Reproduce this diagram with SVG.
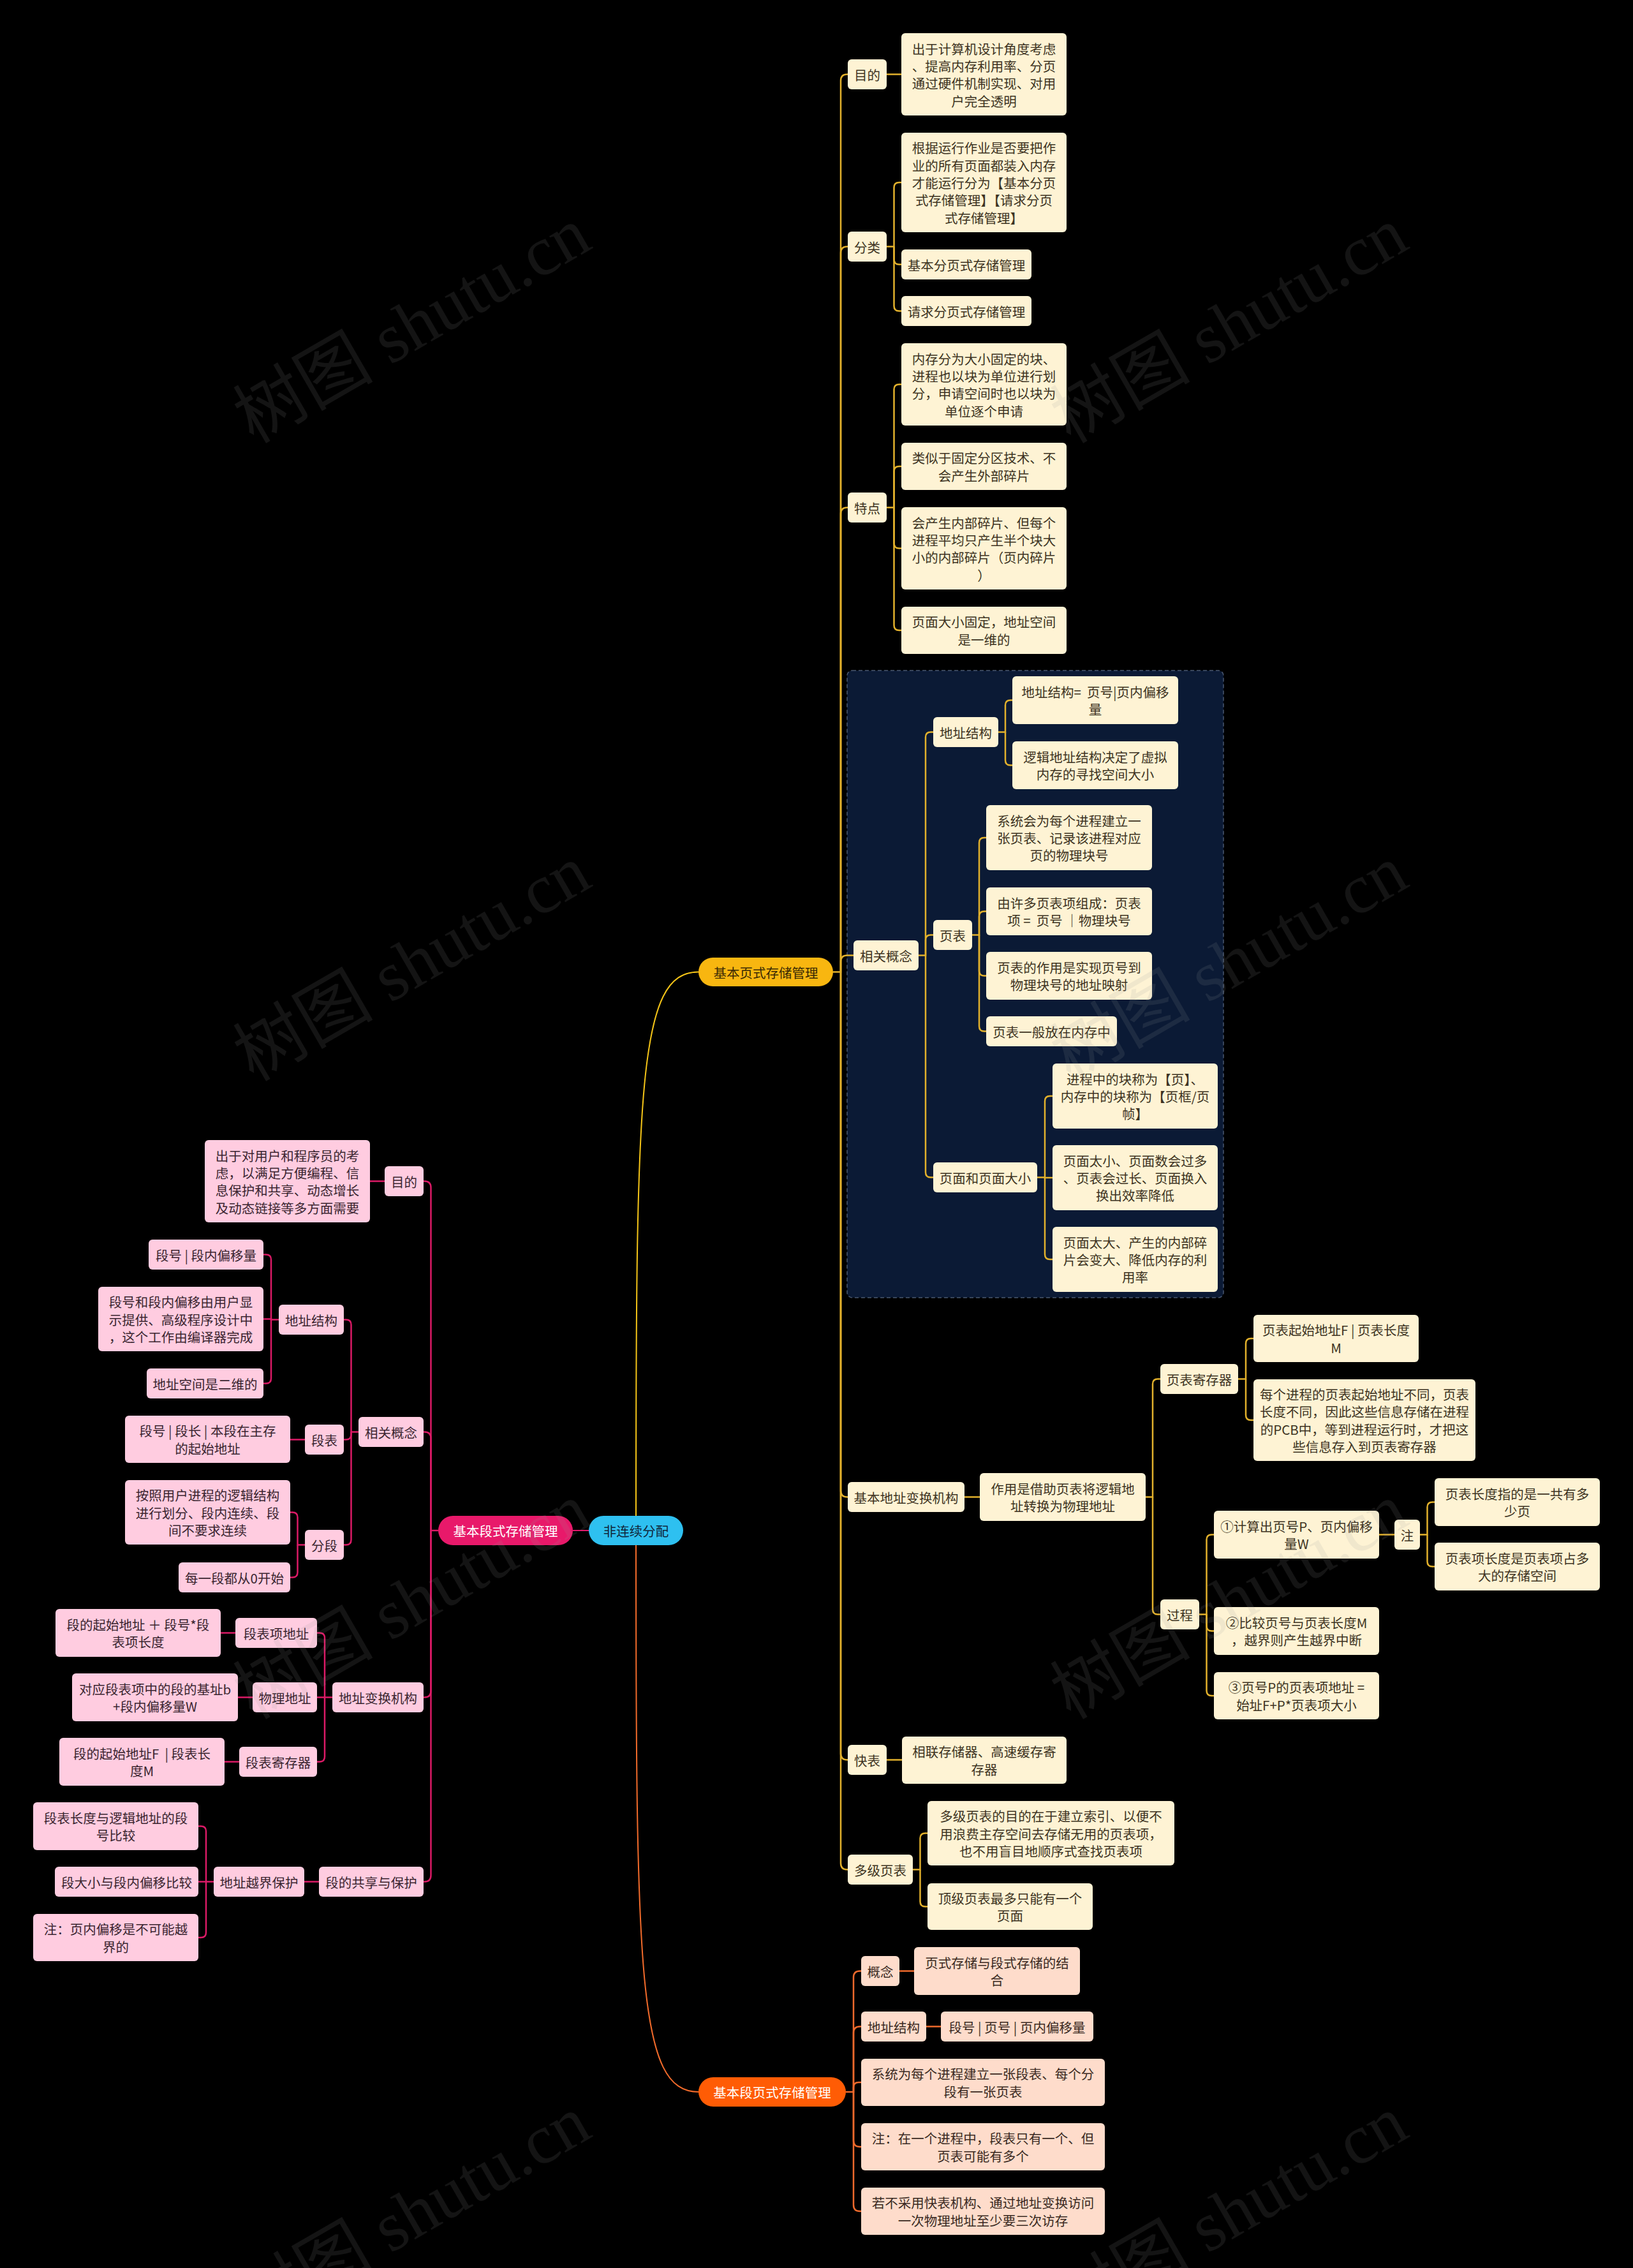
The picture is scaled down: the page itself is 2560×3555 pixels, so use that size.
<svg xmlns="http://www.w3.org/2000/svg" width="2560" height="3555" viewBox="0 0 2560 3555">
<style>
text{font-family:"Noto Sans CJK SC","Noto Sans",sans-serif;font-size:20.5px;text-anchor:middle;dominant-baseline:central;white-space:pre}
.c{fill:#FEF3D4}.ct{fill:#3D3322}
.p{fill:#FFCCE0}.pt{fill:#3A2530}
.o{fill:#FEDCCB}.ot{fill:#3A2A22}
.ly{fill:none;stroke:#E2B12C;stroke-width:2.5}
.lp{fill:none;stroke:#DB1A66;stroke-width:2.5}
.lo{fill:none;stroke:#EE6A2C;stroke-width:2.5}
.wm{font-family:"Liberation Serif","Noto Sans CJK SC",serif;font-size:110px;fill:#9a9a9a;opacity:0.13;text-anchor:middle;dominant-baseline:central}
</style>
<rect x="0" y="0" width="2560" height="3555" fill="#000000"/>
<rect id="frame" x="1328" y="1051" width="590" height="983" rx="8" fill="#0B1A35" stroke="#4A5870" stroke-width="1.5" stroke-dasharray="6 4"/>
<g id="connectors">
<path d="M997 2399C997 1700 1000 1523.5 1095 1523.5" fill="none" stroke="#F5C518" stroke-width="2"/>
<path d="M997 2399C997 3100 1000 3279 1095 3279" fill="none" stroke="#F26B2B" stroke-width="2"/>
<path d="M997 2399H898" fill="none" stroke="#E0186C" stroke-width="2"/>
<g class="ly">
<path d="M1306 1523.5H1318V126.5Q1318 116.5 1328 116.5H1329"/>
<path d="M1318 1523.5V396.5Q1318 386.5 1328 386.5H1329"/>
<path d="M1318 1523.5V805.5Q1318 795.5 1328 795.5H1329"/>
<path d="M1318 1523.5V1507.5Q1318 1497.5 1328 1497.5H1338"/>
<path d="M1318 1523.5V2336.5Q1318 2346.5 1328 2346.5H1329"/>
<path d="M1318 1523.5V2748.5Q1318 2758.5 1328 2758.5H1329"/>
<path d="M1318 1523.5V2920.5Q1318 2930.5 1328 2930.5H1329"/>
<path d="M1390 116.5H1413"/>
<path d="M1390 386.5H1401.5V294Q1401.5 286 1409.5 286H1413"/>
<path d="M1401.5 386.5V406.5Q1401.5 414.5 1409.5 414.5H1413"/>
<path d="M1401.5 386.5V479.5Q1401.5 487.5 1409.5 487.5H1413"/>
<path d="M1390 795.5H1401.5V610.5Q1401.5 602.5 1409.5 602.5H1413"/>
<path d="M1401.5 795.5V739Q1401.5 731 1409.5 731H1413"/>
<path d="M1401.5 795.5V851.5Q1401.5 859.5 1409.5 859.5H1413"/>
<path d="M1401.5 795.5V980Q1401.5 988 1409.5 988H1413"/>
<path d="M1440 1497.5H1451V1155.5Q1451 1147.5 1459 1147.5H1463"/>
<path d="M1451 1497.5V1473.5Q1451 1465.5 1459 1465.5H1463"/>
<path d="M1451 1497.5V1837.5Q1451 1845.5 1459 1845.5H1463"/>
<path d="M1565 1147.5H1576V1105.5Q1576 1097.5 1584 1097.5H1587"/>
<path d="M1576 1147.5V1191.5Q1576 1199.5 1584 1199.5H1587"/>
<path d="M1524 1465.5H1535V1321Q1535 1313 1543 1313H1546"/>
<path d="M1535 1465.5V1436.5Q1535 1428.5 1543 1428.5H1546"/>
<path d="M1535 1465.5V1521.5Q1535 1529.5 1543 1529.5H1546"/>
<path d="M1535 1465.5V1608.5Q1535 1616.5 1543 1616.5H1546"/>
<path d="M1626 1845.5H1638V1726Q1638 1718 1646 1718H1650"/>
<path d="M1638 1845.5V1846H1650"/>
<path d="M1638 1845.5V1966Q1638 1974 1646 1974H1650"/>
<path d="M1512 2346.5H1536"/>
<path d="M1796 2346.5H1807V2169.5Q1807 2161.5 1815 2161.5H1819"/>
<path d="M1807 2346.5V2522.5Q1807 2530.5 1815 2530.5H1819"/>
<path d="M1941 2161.5H1953V2106Q1953 2098 1961 2098H1965"/>
<path d="M1953 2161.5V2218Q1953 2226 1961 2226H1965"/>
<path d="M1880 2530.5H1891.5V2413.5Q1891.5 2405.5 1899.5 2405.5H1903"/>
<path d="M1891.5 2530.5V2548.5Q1891.5 2556.5 1899.5 2556.5H1903"/>
<path d="M1891.5 2530.5V2650Q1891.5 2658 1899.5 2658H1903"/>
<path d="M2162 2405.5H2186"/>
<path d="M2226 2405.5H2237.5V2362.5Q2237.5 2354.5 2245.5 2354.5H2249"/>
<path d="M2237.5 2405.5V2447.5Q2237.5 2455.5 2245.5 2455.5H2249"/>
<path d="M1390 2758.5H1414"/>
<path d="M1431 2930.5H1442.5V2881.5Q1442.5 2873.5 1450.5 2873.5H1454"/>
<path d="M1442.5 2930.5V2980.5Q1442.5 2988.5 1450.5 2988.5H1454"/>
</g>
<g class="lo">
<path d="M1326 3279H1338V3099.5Q1338 3089.5 1348 3089.5H1350"/>
<path d="M1338 3279V3186.5Q1338 3176.5 1348 3176.5H1350"/>
<path d="M1338 3279V3272Q1338 3264 1346 3264H1350"/>
<path d="M1338 3279V3355Q1338 3365 1348 3365H1350"/>
<path d="M1338 3279V3456Q1338 3466 1348 3466H1350"/>
<path d="M1410 3089.5H1433"/>
<path d="M1452 3176.5H1475"/>
</g>
<g class="lp">
<path d="M687 2399H675.5V1861.5Q675.5 1851.5 665.5 1851.5H664"/>
<path d="M675.5 2399V2254.5Q675.5 2244.5 665.5 2244.5H664"/>
<path d="M675.5 2399V2650.5Q675.5 2660.5 665.5 2660.5H664"/>
<path d="M675.5 2399V2939.5Q675.5 2949.5 665.5 2949.5H664"/>
<path d="M603 1851.5H580"/>
<path d="M562 2244.5H550.5V2076.5Q550.5 2068.5 542.5 2068.5H539"/>
<path d="M550.5 2244.5V2248.5Q550.5 2256.5 542.5 2256.5H539"/>
<path d="M550.5 2244.5V2413.5Q550.5 2421.5 542.5 2421.5H539"/>
<path d="M437 2068.5H425V1974.5Q425 1966.5 417 1966.5H413"/>
<path d="M425 2068.5V2067.5H413"/>
<path d="M425 2068.5V2160.5Q425 2168.5 417 2168.5H413"/>
<path d="M478 2256.5H455"/>
<path d="M478 2421.5H466.5V2378.5Q466.5 2370.5 458.5 2370.5H455"/>
<path d="M466.5 2421.5V2464.5Q466.5 2472.5 458.5 2472.5H455"/>
<path d="M521 2660.5H509V2567.5Q509 2559.5 501 2559.5H497"/>
<path d="M509 2660.5H497"/>
<path d="M509 2660.5V2753.5Q509 2761.5 501 2761.5H497"/>
<path d="M369 2559.5H346"/>
<path d="M396 2660.5H373"/>
<path d="M375 2761.5H352"/>
<path d="M500 2949.5H477"/>
<path d="M335 2949.5H323V2870.5Q323 2862.5 315 2862.5H311"/>
<path d="M323 2949.5H311"/>
<path d="M323 2949.5V3029Q323 3037 315 3037H311"/>
</g>
</g>
<g id="root"><rect x="923" y="2376" width="148" height="46" rx="23" fill="#2EC0F0"/><text x="997" y="2399" fill="#10263A">非连续分配</text></g>
<g id="page-root"><rect x="1095" y="1501" width="211" height="45" rx="22.5" fill="#F8B610"/><text x="1200.5" y="1523.5" fill="#3A2A05">基本页式存储管理</text></g>
<g id="seg-root"><rect x="687" y="2376" width="211" height="46" rx="23" fill="#E8196A"/><text x="792.5" y="2399" fill="#FFFFFF">基本段式存储管理</text></g>
<g id="segpage-root"><rect x="1095" y="3256" width="231" height="46" rx="23" fill="#FF5C05"/><text x="1210.5" y="3279" fill="#FFFFFF">基本段页式存储管理</text></g>

<g id="r1"><rect class="c" x="1329" y="93" width="61" height="47" rx="6"/><text class="ct" x="1359.5" y="116.5">目的</text></g>
<g id="r1a"><rect class="c" x="1413" y="52" width="259" height="129" rx="6"/><text class="ct"><tspan x="1542.5" y="75.6">出于计算机设计角度考虑</tspan><tspan x="1542.5" y="102.9">、提高内存利用率、分页</tspan><tspan x="1542.5" y="130.2">通过硬件机制实现、对用</tspan><tspan x="1542.5" y="157.5">户完全透明</tspan></text></g>
<g id="r2"><rect class="c" x="1329" y="363" width="61" height="47" rx="6"/><text class="ct" x="1359.5" y="386.5">分类</text></g>
<g id="r2a"><rect class="c" x="1413" y="208" width="259" height="156" rx="6"/><text class="ct"><tspan x="1542.5" y="231.4">根据运行作业是否要把作</tspan><tspan x="1542.5" y="258.7">业的所有页面都装入内存</tspan><tspan x="1542.5" y="286">才能运行分为【基本分页</tspan><tspan x="1542.5" y="313.3">式存储管理】【请求分页</tspan><tspan x="1542.5" y="340.6">式存储管理】</tspan></text></g>
<g id="r2b"><rect class="c" x="1413" y="391" width="204" height="47" rx="6"/><text class="ct" x="1515" y="414.5">基本分页式存储管理</text></g>
<g id="r2c"><rect class="c" x="1413" y="464" width="204" height="47" rx="6"/><text class="ct" x="1515" y="487.5">请求分页式存储管理</text></g>
<g id="r3"><rect class="c" x="1329" y="772" width="61" height="47" rx="6"/><text class="ct" x="1359.5" y="795.5">特点</text></g>
<g id="r3a"><rect class="c" x="1413" y="538" width="259" height="129" rx="6"/><text class="ct"><tspan x="1542.5" y="561.6">内存分为大小固定的块、</tspan><tspan x="1542.5" y="588.9">进程也以块为单位进行划</tspan><tspan x="1542.5" y="616.2">分，申请空间时也以块为</tspan><tspan x="1542.5" y="643.5">单位逐个申请</tspan></text></g>
<g id="r3b"><rect class="c" x="1413" y="694" width="259" height="74" rx="6"/><text class="ct"><tspan x="1542.5" y="717.4">类似于固定分区技术、不</tspan><tspan x="1542.5" y="744.6">会产生外部碎片</tspan></text></g>
<g id="r3c"><rect class="c" x="1413" y="795" width="259" height="129" rx="6"/><text class="ct"><tspan x="1542.5" y="818.6">会产生内部碎片、但每个</tspan><tspan x="1542.5" y="845.9">进程平均只产生半个块大</tspan><tspan x="1542.5" y="873.2">小的内部碎片（页内碎片</tspan><tspan x="1542.5" y="900.5">）</tspan></text></g>
<g id="r3d"><rect class="c" x="1413" y="951" width="259" height="74" rx="6"/><text class="ct"><tspan x="1542.5" y="974.4">页面大小固定，地址空间</tspan><tspan x="1542.5" y="1001.6">是一维的</tspan></text></g>

<g id="r4"><rect class="c" x="1338" y="1474" width="102" height="47" rx="6"/><text class="ct" x="1389" y="1497.5">相关概念</text></g>
<g id="r4a"><rect class="c" x="1463" y="1124" width="102" height="47" rx="6"/><text class="ct" x="1514" y="1147.5">地址结构</text></g>
<g id="r4a1"><rect class="c" x="1587" y="1060" width="260" height="75" rx="6"/><text class="ct"><tspan x="1717" y="1083.9">地址结构=  页号|页内偏移</tspan><tspan x="1717" y="1111.2">量</tspan></text></g>
<g id="r4a2"><rect class="c" x="1587" y="1162" width="260" height="75" rx="6"/><text class="ct"><tspan x="1717" y="1185.9">逻辑地址结构决定了虚拟</tspan><tspan x="1717" y="1213.2">内存的寻找空间大小</tspan></text></g>
<g id="r4b"><rect class="c" x="1463" y="1442" width="61" height="47" rx="6"/><text class="ct" x="1493.5" y="1465.5">页表</text></g>
<g id="r4b1"><rect class="c" x="1546" y="1262" width="260" height="102" rx="6"/><text class="ct"><tspan x="1676" y="1285.7">系统会为每个进程建立一</tspan><tspan x="1676" y="1313">张页表、记录该进程对应</tspan><tspan x="1676" y="1340.3">页的物理块号</tspan></text></g>
<g id="r4b2"><rect class="c" x="1546" y="1391" width="260" height="75" rx="6"/><text class="ct"><tspan x="1676" y="1414.9">由许多页表项组成：页表</tspan><tspan x="1676" y="1442.2">项 =  页号 ｜物理块号</tspan></text></g>
<g id="r4b3"><rect class="c" x="1546" y="1492" width="260" height="75" rx="6"/><text class="ct"><tspan x="1676" y="1515.9">页表的作用是实现页号到</tspan><tspan x="1676" y="1543.2">物理块号的地址映射</tspan></text></g>
<g id="r4b4"><rect class="c" x="1546" y="1593" width="205" height="47" rx="6"/><text class="ct" x="1648.5" y="1616.5">页表一般放在内存中</text></g>
<g id="r4c"><rect class="c" x="1463" y="1822" width="163" height="47" rx="6"/><text class="ct" x="1544.5" y="1845.5">页面和页面大小</text></g>
<g id="r4c1"><rect class="c" x="1650" y="1667" width="259" height="102" rx="6"/><text class="ct"><tspan x="1779.5" y="1690.7">进程中的块称为【页】、</tspan><tspan x="1779.5" y="1718">内存中的块称为【页框/页</tspan><tspan x="1779.5" y="1745.3">帧】</tspan></text></g>
<g id="r4c2"><rect class="c" x="1650" y="1795" width="259" height="102" rx="6"/><text class="ct"><tspan x="1779.5" y="1818.7">页面太小、页面数会过多</tspan><tspan x="1779.5" y="1846">、页表会过长、页面换入</tspan><tspan x="1779.5" y="1873.3">换出效率降低</tspan></text></g>
<g id="r4c3"><rect class="c" x="1650" y="1923" width="259" height="102" rx="6"/><text class="ct"><tspan x="1779.5" y="1946.7">页面太大、产生的内部碎</tspan><tspan x="1779.5" y="1974">片会变大、降低内存的利</tspan><tspan x="1779.5" y="2001.3">用率</tspan></text></g>

<g id="r5"><rect class="c" x="1329" y="2323" width="183" height="47" rx="6"/><text class="ct" x="1420.5" y="2346.5">基本地址变换机构</text></g>
<g id="r5a"><rect class="c" x="1536" y="2309" width="260" height="75" rx="6"/><text class="ct"><tspan x="1666" y="2332.9">作用是借助页表将逻辑地</tspan><tspan x="1666" y="2360.2">址转换为物理地址</tspan></text></g>
<g id="r5b"><rect class="c" x="1819" y="2138" width="122" height="47" rx="6"/><text class="ct" x="1880" y="2161.5">页表寄存器</text></g>
<g id="r5b1"><rect class="c" x="1965" y="2061" width="259" height="74" rx="6"/><text class="ct"><tspan x="2094.5" y="2084.4">页表起始地址F | 页表长度</tspan><tspan x="2094.5" y="2111.7">M</tspan></text></g>
<g id="r5b2"><rect class="c" x="1965" y="2162" width="348" height="128" rx="6"/><text class="ct"><tspan x="2139" y="2185.1">每个进程的页表起始地址不同，页表</tspan><tspan x="2139" y="2212.4">长度不同，因此这些信息存储在进程</tspan><tspan x="2139" y="2239.7">的PCB中，等到进程运行时，才把这</tspan><tspan x="2139" y="2267">些信息存入到页表寄存器</tspan></text></g>
<g id="r5c"><rect class="c" x="1819" y="2507" width="61" height="47" rx="6"/><text class="ct" x="1849.5" y="2530.5">过程</text></g>
<g id="r5c1"><rect class="c" x="1903" y="2368" width="259" height="75" rx="6"/><text class="ct"><tspan x="2032.5" y="2391.9">①计算出页号P、页内偏移</tspan><tspan x="2032.5" y="2419.2">量W</tspan></text></g>
<g id="r5c1n"><rect class="c" x="2186" y="2382" width="40" height="47" rx="6"/><text class="ct" x="2206" y="2405.5">注</text></g>
<g id="r5c1n1"><rect class="c" x="2249" y="2317" width="259" height="75" rx="6"/><text class="ct"><tspan x="2378.5" y="2340.9">页表长度指的是一共有多</tspan><tspan x="2378.5" y="2368.2">少页</tspan></text></g>
<g id="r5c1n2"><rect class="c" x="2249" y="2418" width="259" height="75" rx="6"/><text class="ct"><tspan x="2378.5" y="2441.9">页表项长度是页表项占多</tspan><tspan x="2378.5" y="2469.2">大的存储空间</tspan></text></g>
<g id="r5c2"><rect class="c" x="1903" y="2519" width="259" height="75" rx="6"/><text class="ct"><tspan x="2032.5" y="2542.9">②比较页号与页表长度M</tspan><tspan x="2032.5" y="2570.2">，越界则产生越界中断</tspan></text></g>
<g id="r5c3"><rect class="c" x="1903" y="2621" width="259" height="74" rx="6"/><text class="ct"><tspan x="2032.5" y="2644.4">③页号P的页表项地址 =</tspan><tspan x="2032.5" y="2671.7">始址F+P*页表项大小</tspan></text></g>
<g id="r6"><rect class="c" x="1329" y="2735" width="61" height="47" rx="6"/><text class="ct" x="1359.5" y="2758.5">快表</text></g>
<g id="r6a"><rect class="c" x="1414" y="2722" width="258" height="74" rx="6"/><text class="ct"><tspan x="1543" y="2745.4">相联存储器、高速缓存寄</tspan><tspan x="1543" y="2772.7">存器</tspan></text></g>
<g id="r7"><rect class="c" x="1329" y="2907" width="102" height="47" rx="6"/><text class="ct" x="1380" y="2930.5">多级页表</text></g>
<g id="r7a"><rect class="c" x="1454" y="2823" width="387" height="101" rx="6"/><text class="ct"><tspan x="1647.5" y="2846.2">多级页表的目的在于建立索引、以便不</tspan><tspan x="1647.5" y="2873.5">用浪费主存空间去存储无用的页表项，</tspan><tspan x="1647.5" y="2900.8">也不用盲目地顺序式查找页表项</tspan></text></g>
<g id="r7b"><rect class="c" x="1454" y="2952" width="259" height="73" rx="6"/><text class="ct"><tspan x="1583.5" y="2974.9">顶级页表最多只能有一个</tspan><tspan x="1583.5" y="3002.2">页面</tspan></text></g>

<g id="o1"><rect class="o" x="1350" y="3066" width="60" height="47" rx="6"/><text class="ot" x="1380" y="3089.5">概念</text></g>
<g id="o1a"><rect class="o" x="1433" y="3052" width="260" height="75" rx="6"/><text class="ot"><tspan x="1563" y="3075.9">页式存储与段式存储的结</tspan><tspan x="1563" y="3103.2">合</tspan></text></g>
<g id="o2"><rect class="o" x="1350" y="3153" width="102" height="47" rx="6"/><text class="ot" x="1401" y="3176.5">地址结构</text></g>
<g id="o2a"><rect class="o" x="1475" y="3153" width="239" height="47" rx="6"/><text class="ot" x="1594.5" y="3176.5">段号 | 页号 | 页内偏移量</text></g>
<g id="o3"><rect class="o" x="1350" y="3227" width="382" height="74" rx="6"/><text class="ot"><tspan x="1541" y="3250.4">系统为每个进程建立一张段表、每个分</tspan><tspan x="1541" y="3277.7">段有一张页表</tspan></text></g>
<g id="o4"><rect class="o" x="1350" y="3328" width="382" height="74" rx="6"/><text class="ot"><tspan x="1541" y="3351.4">注：在一个进程中，段表只有一个、但</tspan><tspan x="1541" y="3378.7">页表可能有多个</tspan></text></g>
<g id="o5"><rect class="o" x="1350" y="3429" width="382" height="74" rx="6"/><text class="ot"><tspan x="1541" y="3452.4">若不采用快表机构、通过地址变换访问</tspan><tspan x="1541" y="3479.7">一次物理地址至少要三次访存</tspan></text></g>

<g id="l1"><rect class="p" x="603" y="1828" width="61" height="47" rx="6"/><text class="pt" x="633.5" y="1851.5">目的</text></g>
<g id="l1a"><rect class="p" x="321" y="1787" width="259" height="129" rx="6"/><text class="pt"><tspan x="450.5" y="1810.6">出于对用户和程序员的考</tspan><tspan x="450.5" y="1837.9">虑，以满足方便编程、信</tspan><tspan x="450.5" y="1865.2">息保护和共享、动态增长</tspan><tspan x="450.5" y="1892.5">及动态链接等多方面需要</tspan></text></g>
<g id="l2"><rect class="p" x="562" y="2221" width="102" height="47" rx="6"/><text class="pt" x="613" y="2244.5">相关概念</text></g>
<g id="l2a"><rect class="p" x="437" y="2045" width="102" height="47" rx="6"/><text class="pt" x="488" y="2068.5">地址结构</text></g>
<g id="l2a1"><rect class="p" x="233" y="1943" width="180" height="47" rx="6"/><text class="pt" x="323" y="1966.5">段号 | 段内偏移量</text></g>
<g id="l2a2"><rect class="p" x="154" y="2017" width="259" height="101" rx="6"/><text class="pt"><tspan x="283.5" y="2040.2">段号和段内偏移由用户显</tspan><tspan x="283.5" y="2067.5">示提供、高级程序设计中</tspan><tspan x="283.5" y="2094.8">，这个工作由编译器完成</tspan></text></g>
<g id="l2a3"><rect class="p" x="230" y="2145" width="183" height="47" rx="6"/><text class="pt" x="321.5" y="2168.5">地址空间是二维的</text></g>
<g id="l2b"><rect class="p" x="478" y="2233" width="61" height="47" rx="6"/><text class="pt" x="508.5" y="2256.5">段表</text></g>
<g id="l2b1"><rect class="p" x="196" y="2219" width="259" height="74" rx="6"/><text class="pt"><tspan x="325.5" y="2242.4">段号 | 段长 | 本段在主存</tspan><tspan x="325.5" y="2269.7">的起始地址</tspan></text></g>
<g id="l2c"><rect class="p" x="478" y="2398" width="61" height="47" rx="6"/><text class="pt" x="508.5" y="2421.5">分段</text></g>
<g id="l2c1"><rect class="p" x="196" y="2320" width="259" height="101" rx="6"/><text class="pt"><tspan x="325.5" y="2343.2">按照用户进程的逻辑结构</tspan><tspan x="325.5" y="2370.5">进行划分、段内连续、段</tspan><tspan x="325.5" y="2397.8">间不要求连续</tspan></text></g>
<g id="l2c2"><rect class="p" x="280" y="2449" width="175" height="47" rx="6"/><text class="pt" x="367.5" y="2472.5">每一段都从0开始</text></g>
<g id="l3"><rect class="p" x="521" y="2637" width="143" height="47" rx="6"/><text class="pt" x="592.5" y="2660.5">地址变换机构</text></g>
<g id="l3a"><rect class="p" x="369" y="2536" width="128" height="47" rx="6"/><text class="pt" x="433" y="2559.5">段表项地址</text></g>
<g id="l3a1"><rect class="p" x="87" y="2522" width="259" height="75" rx="6"/><text class="pt"><tspan x="216.5" y="2545.9">段的起始地址 ＋ 段号*段</tspan><tspan x="216.5" y="2573.2">表项长度</tspan></text></g>
<g id="l3b"><rect class="p" x="396" y="2637" width="101" height="47" rx="6"/><text class="pt" x="446.5" y="2660.5">物理地址</text></g>
<g id="l3b1"><rect class="p" x="113" y="2623" width="260" height="75" rx="6"/><text class="pt"><tspan x="243" y="2646.9">对应段表项中的段的基址b</tspan><tspan x="243" y="2674.2">+段内偏移量W</tspan></text></g>
<g id="l3c"><rect class="p" x="375" y="2738" width="122" height="47" rx="6"/><text class="pt" x="436" y="2761.5">段表寄存器</text></g>
<g id="l3c1"><rect class="p" x="93" y="2724" width="259" height="75" rx="6"/><text class="pt"><tspan x="222.5" y="2747.9">段的起始地址F  | 段表长</tspan><tspan x="222.5" y="2775.2">度M</tspan></text></g>
<g id="l4"><rect class="p" x="500" y="2926" width="164" height="47" rx="6"/><text class="pt" x="582" y="2949.5">段的共享与保护</text></g>
<g id="l4a"><rect class="p" x="335" y="2926" width="142" height="47" rx="6"/><text class="pt" x="406" y="2949.5">地址越界保护</text></g>
<g id="l4a1"><rect class="p" x="52" y="2825" width="259" height="75" rx="6"/><text class="pt"><tspan x="181.5" y="2848.9">段表长度与逻辑地址的段</tspan><tspan x="181.5" y="2876.2">号比较</tspan></text></g>
<g id="l4a2"><rect class="p" x="86" y="2926" width="225" height="47" rx="6"/><text class="pt" x="198.5" y="2949.5">段大小与段内偏移比较</text></g>
<g id="l4a3"><rect class="p" x="52" y="3000" width="259" height="74" rx="6"/><text class="pt"><tspan x="181.5" y="3023.4">注：页内偏移是不可能越</tspan><tspan x="181.5" y="3050.7">界的</tspan></text></g>

<g id="watermarks">
<text class="wm" transform="translate(646 510) rotate(-30)">树图 shutu.cn</text>
<text class="wm" transform="translate(1927 510) rotate(-30)">树图 shutu.cn</text>
<text class="wm" transform="translate(646 1510) rotate(-30)">树图 shutu.cn</text>
<text class="wm" transform="translate(1927 1510) rotate(-30)">树图 shutu.cn</text>
<text class="wm" transform="translate(646 2510) rotate(-30)">树图 shutu.cn</text>
<text class="wm" transform="translate(1927 2510) rotate(-30)">树图 shutu.cn</text>
<text class="wm" transform="translate(646 3470) rotate(-30)">树图 shutu.cn</text>
<text class="wm" transform="translate(1927 3470) rotate(-30)">树图 shutu.cn</text>
</g>
</svg>
